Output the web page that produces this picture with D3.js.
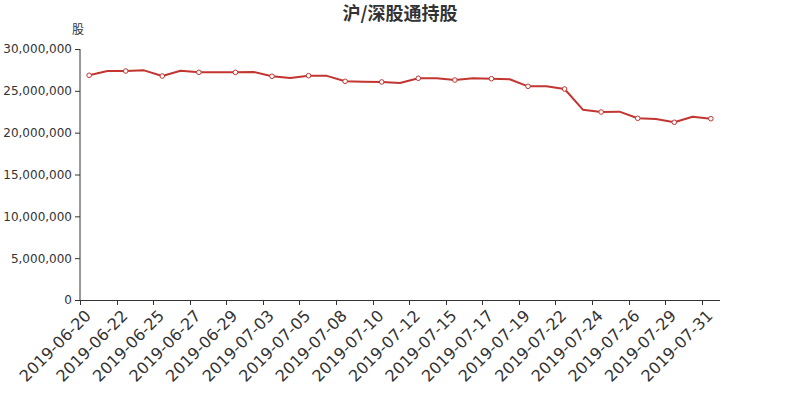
<!DOCTYPE html>
<html><head><meta charset="utf-8">
<script src="https://cdn.jsdelivr.net/npm/d3@7/dist/d3.min.js"></script>
<style>body{margin:0;background:#fff;} svg{display:block;}</style>
</head><body>
<svg id="c" width="800" height="400"></svg>
<script>
const title = "沪/深股通持股";
const yName = "股";
const dates = ["2019-06-20","2019-06-21","2019-06-22","2019-06-24","2019-06-25","2019-06-26","2019-06-27","2019-06-28","2019-06-29","2019-07-02","2019-07-03","2019-07-04","2019-07-05","2019-07-06","2019-07-08","2019-07-09","2019-07-10","2019-07-11","2019-07-12","2019-07-13","2019-07-15","2019-07-16","2019-07-17","2019-07-18","2019-07-19","2019-07-20","2019-07-22","2019-07-23","2019-07-24","2019-07-25","2019-07-26","2019-07-27","2019-07-29","2019-07-30","2019-07-31"];
const holdings = [26860000,27370000,27370000,27450000,26770000,27410000,27210000,27210000,27210000,27250000,26740000,26530000,26810000,26790000,26140000,26090000,26060000,25940000,26500000,26500000,26290000,26500000,26450000,26380000,25540000,25540000,25220000,22750000,22470000,22510000,21720000,21630000,21240000,21910000,21670000];
const yTicks = [0,5000000,10000000,15000000,20000000,25000000,30000000];

const svg = d3.select("#c");
const L = 80, R = 720, T = 49, B = 300;
const x = d3.scaleBand().domain(dates).range([L, R]);
const y = d3.scaleLinear().domain([0, 30000000]).range([B, T]);
const fmt = d3.format(",");
const txt = "#333";

svg.append("text").attr("x", 400).attr("y", 20).attr("text-anchor", "middle")
  .attr("font-family", "'Noto Sans CJK SC', sans-serif").attr("font-weight", "bold")
  .attr("font-size", 18).attr("fill", txt).text(title);
svg.append("text").attr("x", 78).attr("y", 34).attr("text-anchor", "middle")
  .attr("font-family", "'Noto Sans CJK SC', sans-serif").attr("font-size", 12)
  .attr("fill", txt).text(yName);

// y axis
const ya = svg.append("g").attr("transform", `translate(${L},0)`)
  .call(d3.axisLeft(y).tickValues(yTicks).tickFormat(fmt).tickSize(5).tickPadding(3));
ya.selectAll("text").attr("font-family", "DejaVu Sans, sans-serif").attr("font-size", 12).attr("fill", txt);
ya.selectAll("line,path").attr("stroke", txt);
ya.select(".domain").attr("d", `M-0.5,${B}V${T}`).attr("transform","translate(0.5,0)");

// x axis
const xa = svg.append("g").attr("transform", `translate(0,${B})`);
xa.append("line").attr("x1", L).attr("x2", R).attr("y1", 0.5).attr("y2", 0.5).attr("stroke", txt);
const tickIdx = dates.map((d, i) => i).filter(i => i % 2 === 0);
xa.selectAll("line.t").data(tickIdx).enter().append("line").attr("class", "t")
  .attr("x1", i => Math.round(x(dates[i])) + 0.5).attr("x2", i => Math.round(x(dates[i])) + 0.5)
  .attr("y1", 0).attr("y2", 5).attr("stroke", txt);
xa.selectAll("text").data(tickIdx).enter().append("text")
  .attr("transform", i => `translate(${x(dates[i]) + x.bandwidth() / 2 - 5},${9}) rotate(-45)`)
  .attr("text-anchor", "end").attr("dy", "0.7em")
  .attr("font-family", "DejaVu Sans, sans-serif").attr("font-size", 16).attr("fill", txt)
  .text(i => dates[i]);

// line
const cx = d => x(d) + x.bandwidth() / 2;
const line = d3.line().x((v, i) => cx(dates[i])).y(v => y(v));
svg.append("path").datum(holdings).attr("d", line).attr("fill", "none")
  .attr("stroke", "#c23531").attr("stroke-width", 2).attr("stroke-linejoin", "round");
svg.selectAll("circle.m").data(holdings.map((v, i) => [i, v]).filter(d => d[0] % 2 === 0))
  .enter().append("circle").attr("class", "m")
  .attr("cx", d => cx(dates[d[0]])).attr("cy", d => y(d[1])).attr("r", 2.3)
  .attr("fill", "#fff").attr("stroke", "#c23531").attr("stroke-width", 1);
</script>
</body></html>
